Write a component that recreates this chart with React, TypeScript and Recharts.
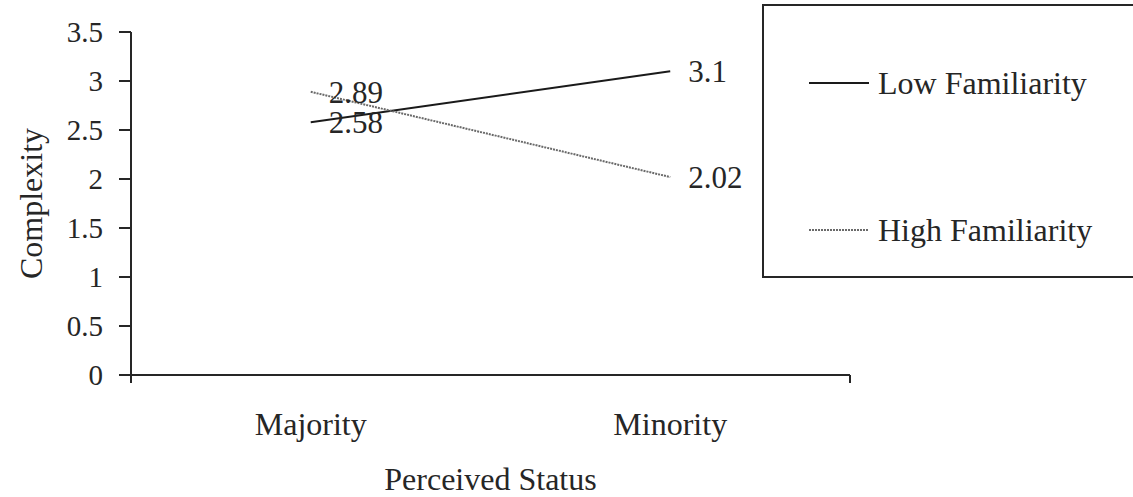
import { LineChart, Line, XAxis, YAxis, Legend, LabelList } from 'recharts';

const categories = ['Majority', 'Minority'];
const seriesNames = ['Low Familiarity', 'High Familiarity'];
const lowFamiliarity = [2.58, 3.1];
const highFamiliarity = [2.89, 2.02];
const yTicks = [0, 0.5, 1, 1.5, 2, 2.5, 3, 3.5];
const yDomain = [0, 3.5];
const frameTicks = [0, 1, 2];
const frameDomain = [0, 2];

const data = categories.map((status, i) => ({
  status,
  low: lowFamiliarity[i],
  high: highFamiliarity[i],
}));

const FONT = '"Liberation Serif", "Times New Roman", serif';
const INK = '#262626';

const LegendBox = ({ payload }: any) => {
  const items = [...(payload || [])].sort(
    (a: any, b: any) => seriesNames.indexOf(a.value) - seriesNames.indexOf(b.value)
  );
  return (
    <div
      style={{
        width: '100%',
        height: '100%',
        boxSizing: 'border-box',
        border: `2px solid ${INK}`,
        background: '#fff',
        fontFamily: FONT,
        fontSize: 32,
        color: INK,
        paddingTop: 53,
        paddingLeft: 45,
      }}
    >
      {items.map((entry: any, i: number) => (
        <div key={i} style={{ display: 'flex', alignItems: 'center', height: 48, marginBottom: i === 0 ? 99 : 0 }}>
          <svg width={60} height={6} style={{ marginRight: 9 }}>
            <line
              x1={0}
              y1={3}
              x2={60}
              y2={3}
              stroke={entry.color}
              strokeWidth={entry.payload?.strokeWidth ?? 2}
              strokeDasharray={entry.payload?.strokeDasharray}
            />
          </svg>
          <span>{entry.value}</span>
        </div>
      ))}
    </div>
  );
};

// frame axis only shows its tick marks, no text
const NoTickText = () => <g />;

const catTick = { fontSize: 32, fill: INK, fontFamily: FONT };
const catLabel = { value: 'Perceived Status', position: 'insideBottom' as const, offset: 7, fontSize: 32, fill: INK, fontFamily: FONT };
const yTick = { fontSize: 29, fill: INK, fontFamily: FONT };
const yLabel = {
  value: 'Complexity',
  angle: -90,
  position: 'insideLeft' as const,
  offset: 31,
  fontSize: 32,
  fill: INK,
  fontFamily: FONT,
  style: { textAnchor: 'middle' as const },
};
const chartMargin = { top: 32, right: -117, left: 0, bottom: 0 };
const legendWrapper = { top: 4, left: 762, width: 400, height: 274 };

export default function App() {
  return (
    <div style={{ position: 'absolute', left: 0, top: 0, width: 1133, height: 497, overflow: 'hidden', background: '#fff' }}>
      <LineChart width={1133} height={497} data={data} margin={chartMargin} style={{ fontFamily: FONT }}>
        <XAxis
          xAxisId="a-frame"
          type="number"
          domain={frameDomain}
          ticks={frameTicks}
          allowDataOverflow
          height={1}
          tick={<NoTickText />}
          tickLine={{ stroke: INK, strokeWidth: 2 }}
          tickSize={8}
          stroke={INK}
          strokeWidth={2}
        />
        <XAxis
          xAxisId="b-status"
          dataKey="status"
          scale="band"
          height={121}
          axisLine={false}
          tickLine={false}
          tickSize={0}
          tickMargin={36}
          tick={catTick}
          label={catLabel}
        />
        <YAxis
          domain={yDomain}
          ticks={yTicks}
          width={131}
          tickSize={12}
          tickMargin={16}
          stroke={INK}
          strokeWidth={2}
          tick={yTick}
          label={yLabel}
        />
        <Legend
          layout="vertical"
          align="right"
          verticalAlign="top"
          content={<LegendBox />}
          wrapperStyle={legendWrapper}
        />
        <Line
          xAxisId="b-status"
          type="linear"
          dataKey="low"
          name={seriesNames[0]}
          stroke="#1a1a1a"
          strokeWidth={2}
          dot={false}
          isAnimationActive={false}
        >
          <LabelList dataKey="low" position="right" offset={18} fontSize={31} fill={INK} fontFamily={FONT} />
        </Line>
        <Line
          xAxisId="b-status"
          type="linear"
          dataKey="high"
          name={seriesNames[1]}
          stroke="#6a6a6a"
          strokeWidth={2}
          strokeDasharray="2 1"
          dot={false}
          isAnimationActive={false}
        >
          <LabelList dataKey="high" position="right" offset={18} fontSize={31} fill={INK} fontFamily={FONT} />
        </Line>
      </LineChart>
    </div>
  );
}
